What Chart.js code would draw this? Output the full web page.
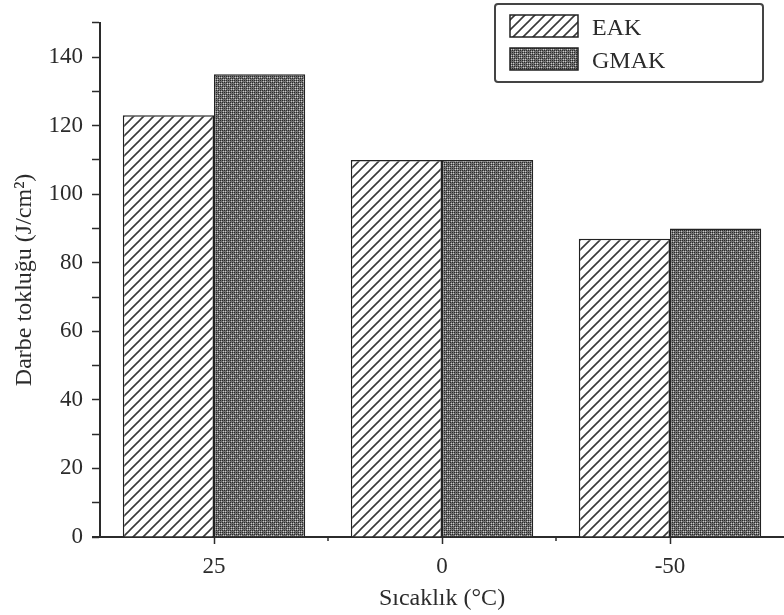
<!DOCTYPE html>
<html>
<head>
<meta charset="utf-8">
<script src="https://cdn.jsdelivr.net/npm/chart.js@4/dist/chart.umd.min.js"></script>
<style>
  html, body { margin: 0; padding: 0; background: #fff; }
  #wrap { width: 784px; height: 615px; }
</style>
</head>
<body>
<div id="wrap"><canvas id="chart" width="784" height="615"></canvas></div>
<script>
const categories = ['25', '0', '-50'];
const eakValues = [123, 110, 87];
const gmakValues = [135, 110, 90];
const seriesNames = ['EAK', 'GMAK'];
const yTicks = [0, 20, 40, 60, 80, 100, 120, 140];

const FONT = "'Liberation Serif', 'DejaVu Serif', serif";
const INK = '#2b2b2b';

// hatched pattern for EAK
function makeHatch() {
    const c = document.createElement('canvas');
    c.width = 10; c.height = 10;
    const g = c.getContext('2d');
    g.fillStyle = '#fff';
    g.fillRect(0, 0, 10, 10);
    g.strokeStyle = '#3a3a3a';
    g.lineWidth = 1.6;
    g.beginPath();
    g.moveTo(-5, 5); g.lineTo(5, -5);
    g.moveTo(0, 10); g.lineTo(10, 0);
    g.moveTo(5, 15); g.lineTo(15, 5);
    g.stroke();
    return g.createPattern(c, 'repeat');
}

// dotted cross pattern for GMAK
function makeDots() {
    const c = document.createElement('canvas');
    c.width = 8; c.height = 8;
    const g = c.getContext('2d');
    for (let y = 0; y < 8; y++) {
        for (let x = 0; x < 8; x++) {
            let col = '#727272';
            if (x % 2 === 0 && y % 2 === 0) col = '#2a2a2a';
            else if (x === y || x === (8 - y) % 8) col = '#c8c8c8';
            g.fillStyle = col;
            g.fillRect(x, y, 1, 1);
        }
    }
    return g.createPattern(c, 'repeat');
}

const hatch = makeHatch();
const dots = makeDots();

// legend box, axis stub and small ticks between categories
const extras = {
    id: 'extras',
    afterDraw(chart) {
        const ctx = chart.ctx;
        const xs = chart.scales.x;
        const area = chart.chartArea;
        ctx.save();
        ctx.strokeStyle = INK;
        ctx.lineWidth = 1.5;
        for (let i = 1; i < categories.length; i++) {
            const px = (xs.getPixelForValue(i - 1) + xs.getPixelForValue(i)) / 2;
            ctx.beginPath();
            ctx.moveTo(px, xs.top);
            ctx.lineTo(px, xs.top + 4);
            ctx.stroke();
        }
        ctx.lineWidth = 2;
        ctx.beginPath();
        ctx.moveTo(area.left - 8, area.bottom);
        ctx.lineTo(area.left, area.bottom);
        ctx.stroke();

        // legend
        ctx.strokeStyle = '#444';
        ctx.fillStyle = '#fff';
        ctx.beginPath();
        ctx.roundRect(495, 4, 268, 78, 3);
        ctx.fill();
        ctx.stroke();
        const fills = [hatch, dots];
        ctx.font = '24px ' + FONT;
        ctx.textBaseline = 'middle';
        seriesNames.forEach((name, i) => {
            const y = 15 + i * 33;
            ctx.fillStyle = fills[i];
            ctx.fillRect(510, y, 68, 22);
            ctx.lineWidth = 1.5;
            ctx.strokeStyle = '#222';
            ctx.strokeRect(510, y, 68, 22);
            ctx.fillStyle = INK;
            ctx.fillText(name, 592, y + 14);
        });
        ctx.restore();
    }
};

new Chart(document.getElementById('chart'), {
    type: 'bar',
    data: {
        labels: categories,
        datasets: [{
            label: seriesNames[0],
            data: eakValues,
            backgroundColor: hatch,
            borderColor: '#222',
            borderWidth: 1.5,
            barPercentage: 1.0,
            categoryPercentage: 0.8,
        }, {
            label: seriesNames[1],
            data: gmakValues,
            backgroundColor: dots,
            borderColor: '#222',
            borderWidth: 1.5,
            barPercentage: 1.0,
            categoryPercentage: 0.8,
        }],
    },
    options: {
        responsive: false,
        animation: false,
        layout: { padding: { top: 16, right: -10, left: 0, bottom: 0 } },
        plugins: {
            legend: { display: false },
            tooltip: { enabled: false },
        },
        scales: {
            x: {
                grid: { display: true, offset: false, drawOnChartArea: false, tickLength: 7, tickColor: INK, tickWidth: 1.5 },
                border: { display: true, color: INK, width: 2 },
                ticks: { color: INK, font: { family: FONT, size: 23 }, padding: 9 },
                title: { display: true, text: 'Sıcaklık (°C)', color: INK, font: { family: FONT, size: 24 }, padding: { top: 0, bottom: 2 } },
                afterFit(scale) { scale.height = 78; },
            },
            y: {
                min: 0,
                max: 150,
                grid: { drawOnChartArea: false, tickLength: 8, tickColor: INK, tickWidth: 1.5 },
                border: { display: true, color: INK, width: 2 },
                ticks: {
                    stepSize: 10,
                    color: INK,
                    font: { family: FONT, size: 23 },
                    padding: 9,
                    callback: (v) => yTicks.includes(v) ? v : '',
                },
                title: { display: true, text: 'Darbe tokluğu (J/cm²)', color: INK, font: { family: FONT, size: 24 }, padding: { top: 10, bottom: 10 } },
                afterFit(scale) { scale.width = 100; },
            },
        },
    },
    plugins: [extras],
});
</script>
</body>
</html>
